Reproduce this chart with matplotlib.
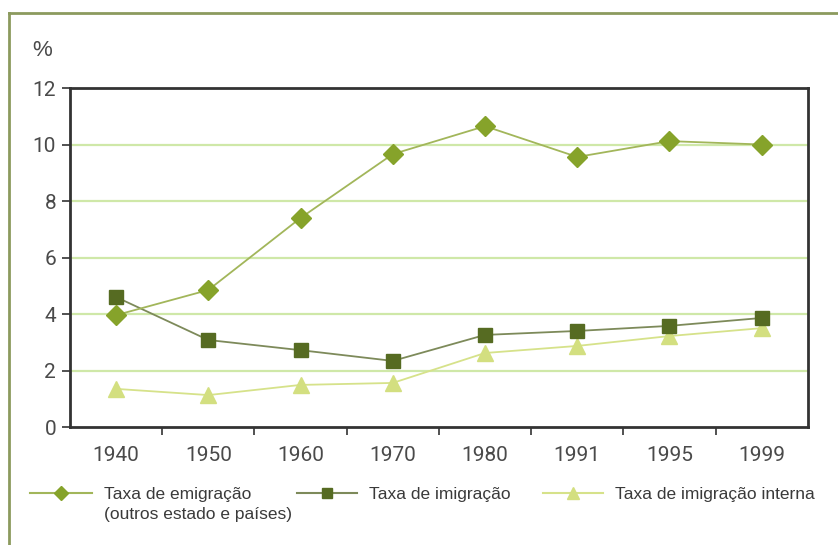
import matplotlib
matplotlib.use("Agg")
import matplotlib.pyplot as plt
from matplotlib.lines import Line2D

years = ["1940", "1950", "1960", "1970", "1980", "1991", "1995", "1999"]
emigracao = [3.96, 4.85, 7.4, 9.66, 10.65, 9.56, 10.12, 10.0]
imigracao = [4.6, 3.08, 2.72, 2.34, 3.26, 3.4, 3.58, 3.86]
imigracao_interna = [1.35, 1.13, 1.49, 1.56, 2.62, 2.87, 3.22, 3.5]
yticks = [0, 2, 4, 6, 8, 10, 12]

grid_green = "#cfe8a8"
frame_olive = "#8c9a5e"
tick_font = ["Roboto", "DejaVu Sans"]
text_font = ["Liberation Sans", "DejaVu Sans"]

series = [
    ("Taxa de emigração", "(outros estado e países)", emigracao,
     dict(color="#a2b65a", marker="D", mfc="#86a32a", mec="#86a32a")),
    ("Taxa de imigração", None, imigracao,
     dict(color="#7d8a5a", marker="s", mfc="#566b22", mec="#566b22")),
    ("Taxa de imigração interna", None, imigracao_interna,
     dict(color="#d6e28a", marker="^", mfc="#d3df80", mec="#d3df80")),
]
plot_ms = [10, 10, 11]
legend_ms = [7.5, 6.5, 9]
legend_x = [(0.036, 0.110), (0.354, 0.426), (0.648, 0.720)]

fig = plt.figure(figsize=(8.38, 5.45), dpi=100)
ax = fig.add_axes([0.0835, 0.2165, 0.8805, 0.622])

x = list(range(len(years)))

for y in yticks[1:-1]:
    ax.axhline(y, color=grid_green, lw=1.6, zorder=1)

for i, (lab1, lab2, vals, st) in enumerate(series):
    ax.plot(x, vals, lw=1.3, ms=plot_ms[i], zorder=4 - i, **st)

    # legend entry drawn by hand so the first text line sits on the handle
    x0, x1 = legend_x[i]
    fig.add_artist(Line2D([x0, (x0 + x1) / 2, x1], [0.0955] * 3, lw=1.5,
                          ms=legend_ms[i], markevery=[1], **st))
    fig.text(x1 + 0.014, 0.0835, lab1, fontsize=12.5, color="#3a3a3a",
             family=text_font, va="baseline")
    if lab2:
        fig.text(x1 + 0.014, 0.048, lab2, fontsize=12.5, color="#3a3a3a",
                 family=text_font, va="baseline")

ax.set_xlim(-0.5, len(years) - 0.5)
ax.set_ylim(0, 12)
ax.set_yticks(yticks)
ax.set_xticks(x)
ax.set_xticklabels(years)
ax.set_xticks([i + 0.5 for i in x[:-1]], minor=True)
ax.tick_params(axis="x", which="major", length=0, pad=14)
ax.tick_params(axis="x", which="minor", length=6, width=1.2, color="#333333")
ax.tick_params(axis="y", length=6, width=1.2, color="#333333", pad=4)
for lab in ax.get_xticklabels() + ax.get_yticklabels():
    lab.set_fontsize(15)
    lab.set_color("#4a4a4a")
    lab.set_fontfamily(tick_font)

for s in ax.spines.values():
    s.set_color("#333333")
    s.set_linewidth(2)

fig.text(0.038, 0.908, "%", fontsize=16, color="#4a4a4a", family=text_font,
         ha="left", va="center")

# outer frame (top and left)
fig.add_artist(Line2D([0.011, 1.0], [0.976, 0.976], color=frame_olive, lw=2))
fig.add_artist(Line2D([0.011, 0.011], [0.0, 0.976], color=frame_olive, lw=2))

fig.savefig("out.png", dpi=100)
